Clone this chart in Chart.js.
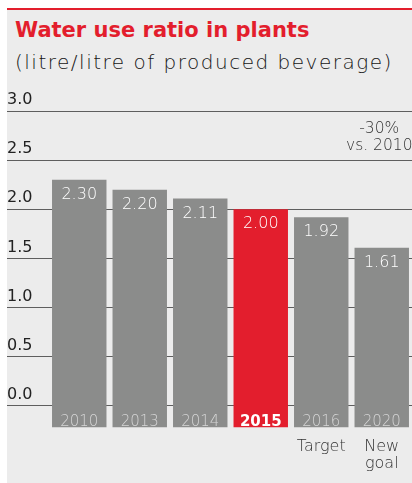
<!DOCTYPE html>
<html>
<head>
<meta charset="utf-8">
<script src="https://cdn.jsdelivr.net/npm/chart.js@4.4.1/dist/chart.umd.min.js"></script>
<style>
  html, body { margin: 0; padding: 0; background: #fff; }
  body { width: 412px; height: 483px; position: relative; overflow: hidden; }
  #panel {
    position: absolute; left: 7px; top: 8px; width: 405px; height: 475px;
    background: #ececec; border-top: 2px solid #e31e2d; box-sizing: border-box;
  }
  #title {
    position: absolute; left: 8px; top: 8px; margin: 0; line-height: 24px;
    font: 700 21px "DejaVu Sans", sans-serif; color: #e31e2d; white-space: nowrap;
  }
  #subtitle {
    position: absolute; left: 8px; top: 40px; margin: 0; line-height: 24px;
    font: 200 20px "DejaVu Sans", sans-serif; letter-spacing: 1.5px;
    color: #161616; white-space: nowrap;
  }
  #wrap { position: absolute; left: 0; top: 72px; width: 405px; height: 403px; }
</style>
</head>
<body>
<div id="panel">
  <h1 id="title">Water use ratio in plants</h1>
  <div id="subtitle">(litre/litre of produced beverage)</div>
  <div id="wrap"><canvas id="myChart"></canvas></div>
</div>
<script>
const years = ["2010", "2013", "2014", "2015", "2016", "2020"];
const ratios = [2.30, 2.20, 2.11, 2.00, 1.92, 1.61];
const notes = ["", "", "", "", "Target", ["New", "goal"]];
const highlightYear = "2015";
const yTicks = [0, 0.5, 1.0, 1.5, 2.0, 2.5, 3.0];
const annotation = ["-30%", "vs. 2010"];

// bars hang a bit below zero so the year fits inside them
const barBase = -0.22;

const grey = "#8b8c8b";
const red = "#e31e2d";
const fontFamily = "'DejaVu Sans', sans-serif";

// value on top of each bar, year at its foot, and the -30% note over the last bar
const barText = {
  id: "barText",
  afterDatasetsDraw(chart) {
    const ctx = chart.ctx;
    const meta = chart.getDatasetMeta(0);
    ctx.save();
    ctx.textAlign = "center";
    ctx.textBaseline = "alphabetic";
    meta.data.forEach((bar, i) => {
      ctx.fillStyle = "#ffffff";
      ctx.font = "200 16px " + fontFamily;
      ctx.fillText(ratios[i].toFixed(2), bar.x, bar.y + 19);
      const bold = years[i] === highlightYear;
      ctx.fillStyle = bold ? "#ffffff" : "#d6d6d6";
      ctx.font = (bold ? "bold " : "200 ") + "15px " + fontFamily;
      ctx.fillText(years[i], bar.x, bar.base - 2);
    });
    const last = meta.data[meta.data.length - 1];
    const y = chart.scales.y.getPixelForValue(2.78);
    ctx.fillStyle = "#333";
    ctx.font = "200 15.5px " + fontFamily;
    annotation.forEach((line, k) => ctx.fillText(line, last.x - 2.5, y + k * 17.6));
    ctx.restore();
  },
};

const ctx = document.getElementById("myChart").getContext("2d");
const myChart = new Chart(ctx, {
  type: "bar",
  data: {
    labels: years,
    datasets: [{
      data: ratios.map((v) => [barBase, v]),
      backgroundColor: years.map((y) => (y === highlightYear ? red : grey)),
      borderWidth: 0,
      barPercentage: 0.9,
      categoryPercentage: 1,
    }],
  },
  options: {
    responsive: true,
    maintainAspectRatio: false,
    animation: false,
    layout: { padding: { top: 29, left: 0, right: 0, bottom: 0 } },
    plugins: { legend: { display: false }, tooltip: { enabled: false } },
    scales: {
      x: {
        grid: { display: false },
        border: { display: false },
        afterFit: (scale) => { scale.height = 57.4; },
        ticks: {
          padding: 2,
          color: "#333",
          font: { family: "DejaVu Sans", size: 16, weight: 200, lineHeight: 1.1 },
          callback: (v, i) => notes[i],
        },
      },
      y: {
        min: barBase,
        max: 3.0,
        border: { display: false },
        grid: { color: "#5e5e5e", lineWidth: 1, tickLength: 42 },
        afterFit: (scale) => { scale.width = 42; },
        afterBuildTicks: (scale) => { scale.ticks = yTicks.map((v) => ({ value: v })); },
        ticks: {
          crossAlign: "far",
          labelOffset: -11,
          color: "#222",
          font: { family: "DejaVu Sans", size: 16 },
          callback: (v) => v.toFixed(1),
        },
      },
    },
  },
  plugins: [barText],
});
</script>
</body>
</html>
